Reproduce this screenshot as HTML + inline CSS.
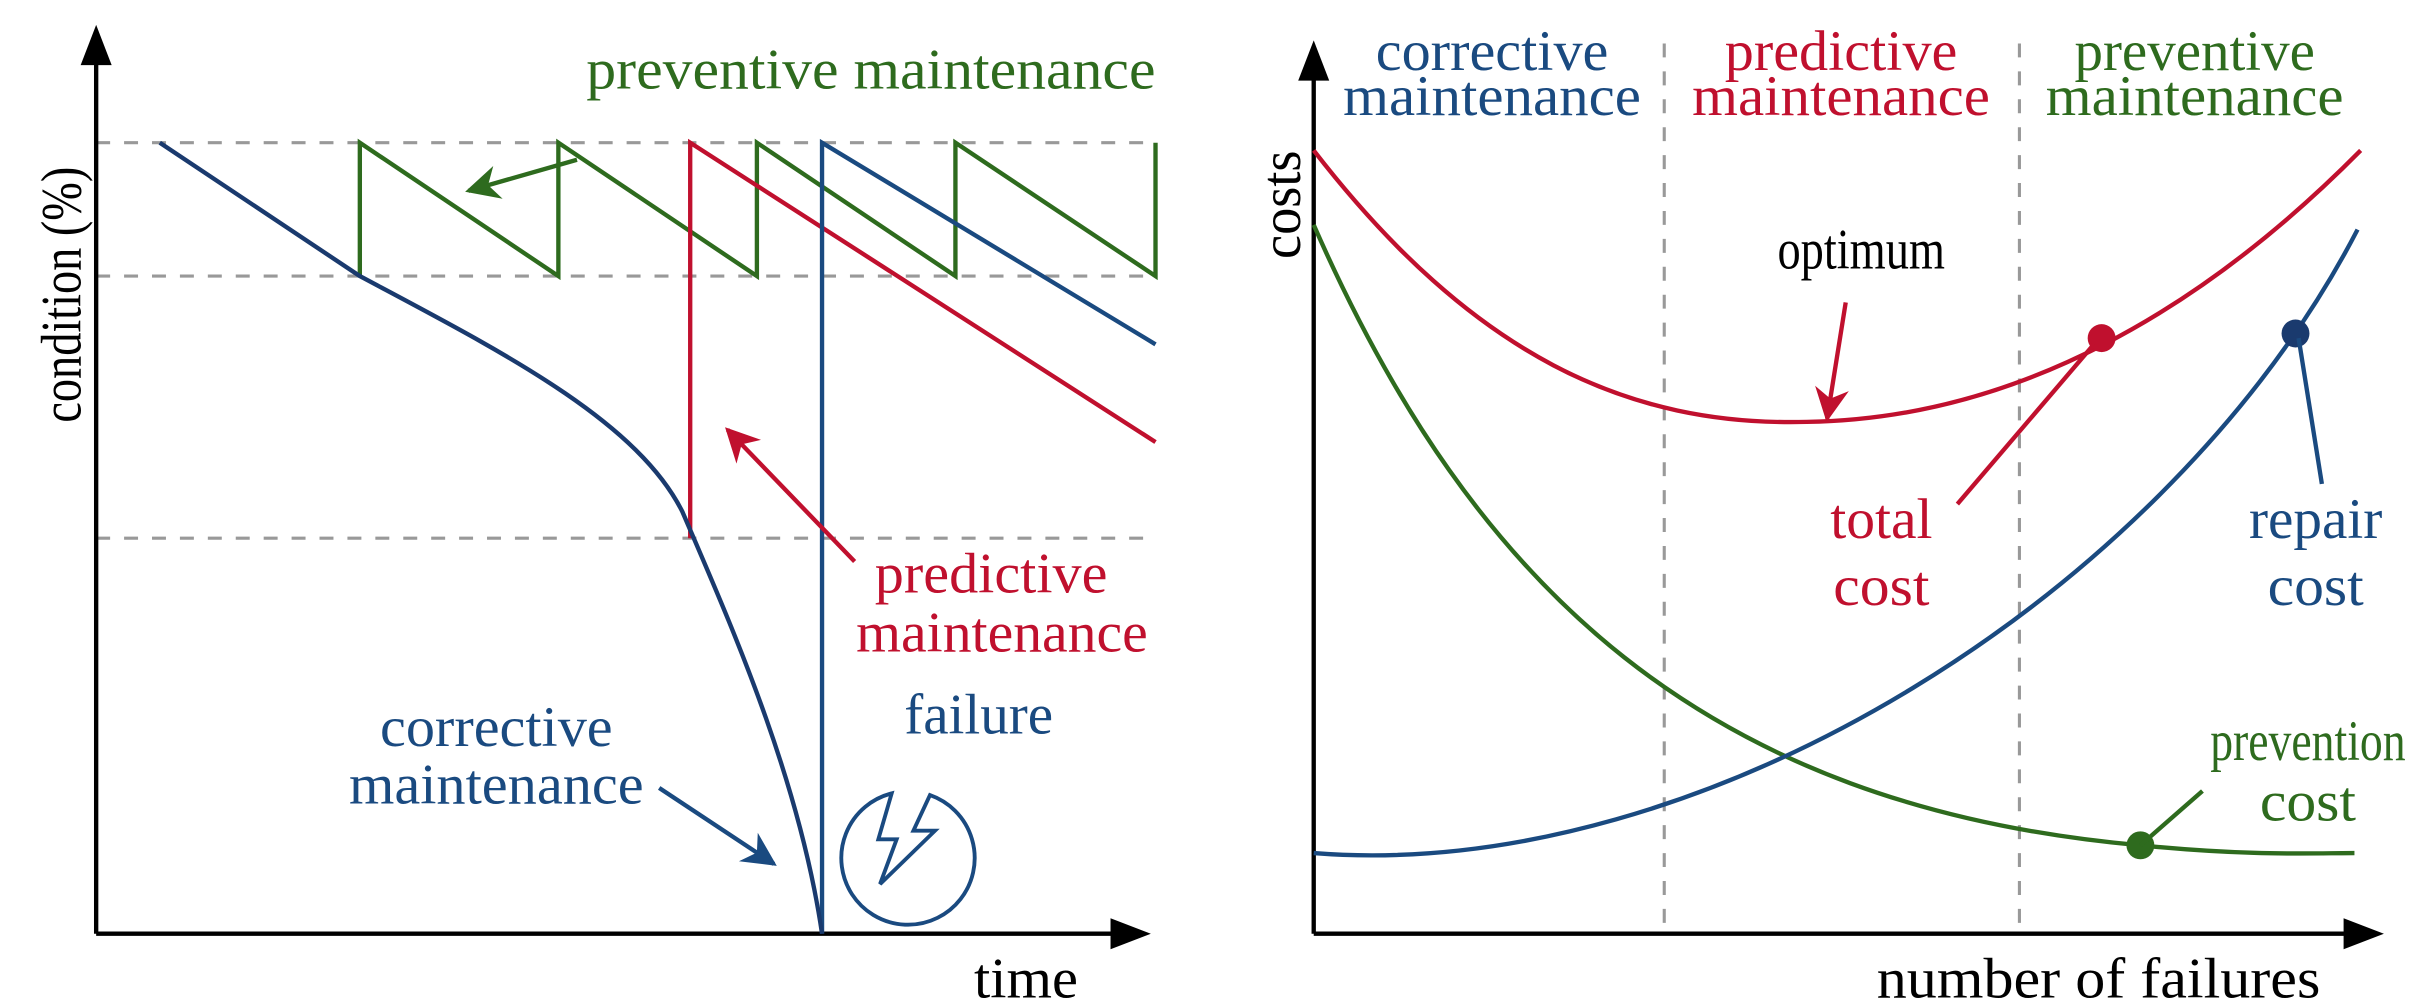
<!DOCTYPE html>
<html><head><meta charset="utf-8"><style>
html,body{margin:0;padding:0;background:#fff;}
svg{display:block;}
text{font-family:"Liberation Serif","Times New Roman",serif;font-size:37px;}
</style></head><body>
<svg width="2432" height="1004" viewBox="0 0 1568 647.3" xmlns="http://www.w3.org/2000/svg">
<defs>
<marker id="ag" viewBox="0 0 10 10" refX="9" refY="5" markerWidth="26" markerHeight="22" orient="auto" markerUnits="userSpaceOnUse"><path d="M0,0L10,5L0,10L3,5z" fill="#2e6b1e"/></marker>
<marker id="ar" viewBox="0 0 10 10" refX="9" refY="5" markerWidth="26" markerHeight="22" orient="auto" markerUnits="userSpaceOnUse"><path d="M0,0L10,5L0,10L3,5z" fill="#c0102e"/></marker>
<marker id="ab" viewBox="0 0 10 10" refX="9" refY="5" markerWidth="26" markerHeight="22" orient="auto" markerUnits="userSpaceOnUse"><path d="M0,0L10,5L0,10L3,5z" fill="#1a4a80"/></marker>
</defs>
<g stroke="#999" stroke-width="2" stroke-dasharray="9,9" fill="none">
<line x1="62" y1="92" x2="745" y2="92"/>
<line x1="62" y1="178" x2="745" y2="178"/>
<line x1="62" y1="347" x2="745" y2="347"/>
</g>
<g stroke="#000" stroke-width="2.8">
<line x1="62" y1="602" x2="62" y2="40"/>
<line x1="62" y1="602" x2="720" y2="602"/>
</g>
<path d="M52,42L62,16L72,42z" fill="#000"/>
<path d="M716,592L742,602L716,612z" fill="#000"/>
<text x="0" y="0" transform="translate(52,190) rotate(-90)" text-anchor="middle" fill="#000" textLength="165" lengthAdjust="spacingAndGlyphs">condition (%)</text>
<text x="628" y="643" fill="#000" textLength="67" lengthAdjust="spacingAndGlyphs">time</text>
<path d="M232,178 L232,92 L360,178 L360,92 L488,178 L488,92 L616,178 L616,92 L745,178 L745,92" stroke="#2e6b1e" stroke-width="2.8" fill="none"/>
<path d="M445,347 L445,92 L745,285" stroke="#c0102e" stroke-width="2.8" fill="none"/>
<path d="M530,602 L530,92 L745,222" stroke="#1a4a80" stroke-width="2.8" fill="none"/>
<path d="M103,92 L232,178 C320,225 410,270 440,330 C470,400 515,500 530,602" stroke="#1a3a6e" stroke-width="2.8" fill="none"/>
<line x1="372" y1="103" x2="302" y2="123" stroke="#2e6b1e" stroke-width="2.8" marker-end="url(#ag)"/>
<line x1="551" y1="362" x2="469" y2="277" stroke="#c0102e" stroke-width="2.8" marker-end="url(#ar)"/>
<line x1="425" y1="508" x2="499" y2="557" stroke="#1a4a80" stroke-width="2.8" marker-end="url(#ab)"/>
<text x="378" y="57" fill="#2e6b1e" textLength="367" lengthAdjust="spacingAndGlyphs">preventive maintenance</text>
<text x="639" y="382" text-anchor="middle" fill="#c0102e" textLength="150" lengthAdjust="spacingAndGlyphs">predictive</text>
<text x="646" y="420" text-anchor="middle" fill="#c0102e" textLength="188" lengthAdjust="spacingAndGlyphs">maintenance</text>
<text x="320" y="481" text-anchor="middle" fill="#1a4a80" textLength="150" lengthAdjust="spacingAndGlyphs">corrective</text>
<text x="320" y="518" text-anchor="middle" fill="#1a4a80" textLength="190" lengthAdjust="spacingAndGlyphs">maintenance</text>
<text x="631" y="473" text-anchor="middle" fill="#1a4a80" textLength="96" lengthAdjust="spacingAndGlyphs">failure</text>
<path d="M599.6,512.6 A43,43 0 1 1 574.9,511.5 L566.3,541.1 L578.1,541.1 L567.4,570 L602.8,535.6 L588.9,535.6 Z" stroke="#1a4a80" stroke-width="2.5" fill="none"/>
<g stroke="#999" stroke-width="2" stroke-dasharray="9,9" fill="none">
<line x1="1073" y1="28" x2="1073" y2="602"/>
<line x1="1302" y1="28" x2="1302" y2="602"/>
</g>
<g stroke="#000" stroke-width="2.8">
<line x1="847" y1="602" x2="847" y2="50"/>
<line x1="847" y1="602" x2="1515" y2="602"/>
</g>
<path d="M837,52L847,26L857,52z" fill="#000"/>
<path d="M1511,592L1537,602L1511,612z" fill="#000"/>
<text x="0" y="0" transform="translate(838,132) rotate(-90)" text-anchor="middle" fill="#000" textLength="70" lengthAdjust="spacingAndGlyphs">costs</text>
<text x="1210" y="643" fill="#000" textLength="286" lengthAdjust="spacingAndGlyphs">number of failures</text>
<text x="962" y="45" text-anchor="middle" fill="#1a4a80" textLength="150" lengthAdjust="spacingAndGlyphs">corrective</text>
<text x="962" y="74" text-anchor="middle" fill="#1a4a80" textLength="192" lengthAdjust="spacingAndGlyphs">maintenance</text>
<text x="1187" y="45" text-anchor="middle" fill="#c0102e" textLength="150" lengthAdjust="spacingAndGlyphs">predictive</text>
<text x="1187" y="74" text-anchor="middle" fill="#c0102e" textLength="192" lengthAdjust="spacingAndGlyphs">maintenance</text>
<text x="1415" y="45" text-anchor="middle" fill="#2e6b1e" textLength="155" lengthAdjust="spacingAndGlyphs">preventive</text>
<text x="1415" y="74" text-anchor="middle" fill="#2e6b1e" textLength="192" lengthAdjust="spacingAndGlyphs">maintenance</text>
<path d="M847,145 C950,380 1100,520 1380,545 C1450,552 1490,550 1518,550" stroke="#2e6b1e" stroke-width="2.8" fill="none"/>
<path d="M847,550 C1100,570 1400,380 1520,148" stroke="#1a4a80" stroke-width="2.8" fill="none"/>
<path d="M847,97 C950,230 1050,275 1165,272 C1300,270 1420,200 1522,97" stroke="#c0102e" stroke-width="2.8" fill="none"/>
<circle cx="1355" cy="218" r="9" fill="#c0102e"/>
<circle cx="1480" cy="215" r="9" fill="#1a3a6e"/>
<circle cx="1380" cy="545" r="9" fill="#2e6b1e"/>
<line x1="1190" y1="195" x2="1178" y2="270" stroke="#c0102e" stroke-width="2.8" marker-end="url(#ar)"/>
<line x1="1262" y1="325" x2="1350" y2="222" stroke="#c0102e" stroke-width="2.8"/>
<line x1="1497" y1="312" x2="1482" y2="218" stroke="#1a4a80" stroke-width="2.8"/>
<line x1="1420" y1="510" x2="1380" y2="545" stroke="#2e6b1e" stroke-width="2.8"/>
<text x="1200" y="173" text-anchor="middle" fill="#000" textLength="108" lengthAdjust="spacingAndGlyphs">optimum</text>
<text x="1213" y="347" text-anchor="middle" fill="#c0102e" textLength="66" lengthAdjust="spacingAndGlyphs">total</text>
<text x="1213" y="390" text-anchor="middle" fill="#c0102e" textLength="62" lengthAdjust="spacingAndGlyphs">cost</text>
<text x="1493" y="347" text-anchor="middle" fill="#1a4a80" textLength="86" lengthAdjust="spacingAndGlyphs">repair</text>
<text x="1493" y="390" text-anchor="middle" fill="#1a4a80" textLength="62" lengthAdjust="spacingAndGlyphs">cost</text>
<text x="1488" y="490" text-anchor="middle" fill="#2e6b1e" textLength="126" lengthAdjust="spacingAndGlyphs">prevention</text>
<text x="1488" y="529" text-anchor="middle" fill="#2e6b1e" textLength="62" lengthAdjust="spacingAndGlyphs">cost</text>
</svg>
</body></html>
